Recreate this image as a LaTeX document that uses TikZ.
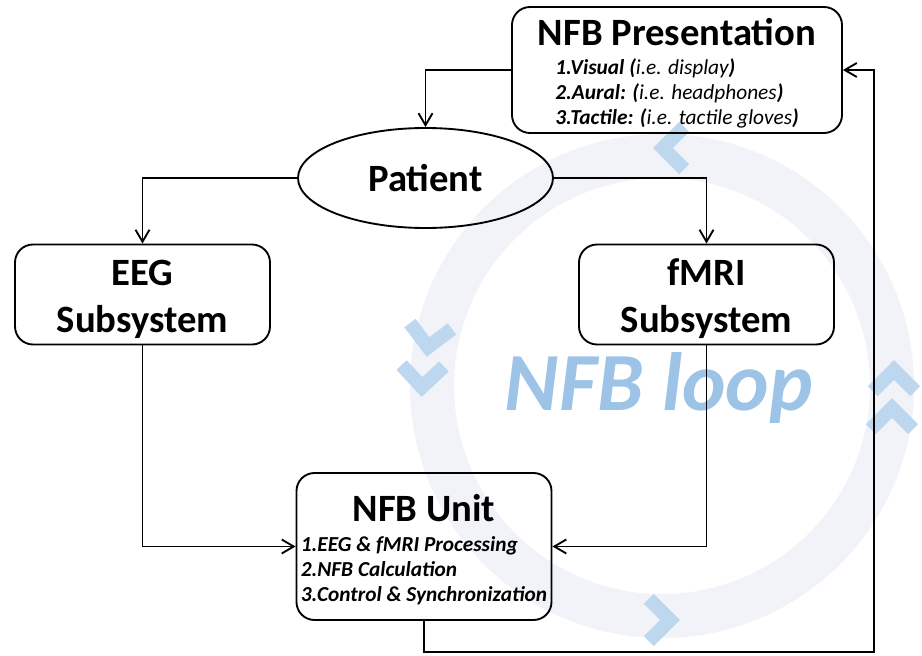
\documentclass[tikz,border=0pt]{standalone}
\usepackage{fontspec}
\setmainfont{Carlito}
\usetikzlibrary{arrows.meta, shapes.geometric}

\newcommand{\boxtitle}{\fontsize{29}{35}\selectfont\bfseries}
\newcommand{\boxitem}{\fontsize{16}{19}\selectfont\bfseries\itshape}
\definecolor{ringgray}{HTML}{F1F3F9}
\definecolor{chevblue}{HTML}{BDD7EE}
\definecolor{loopblue}{HTML}{9DC3E6}

\begin{document}
\begin{tikzpicture}[x=0.75pt, y=-0.75pt, line width=1.4pt,
	>={Straight Barb[length=9pt, width=10.5pt]},
	block/.style={draw, rounded corners=13.5pt, minimum width=191.25pt, minimum height=75pt,
		align=center, inner sep=0pt, font=\boxtitle},
	listblock/.style={block, minimum height=110.25pt},
	chev/.style={chevblue, line width=10.5pt},
	hvline/.style={->, to path={-| (\tikztotarget)}},
	vhline/.style={->, to path={|- (\tikztotarget)}}]
	\useasboundingbox (0,0) rectangle (922,656);
	% loop in the background
	\fill[ringgray, even odd rule] (662,386) circle[radius=252] circle[radius=208];
	\foreach \x/\y/\a in {663/148/180, 428/347/98, 422/387/92, 670/620/0, 894/370/270, 892/408/270}
		\draw[chev, shift={(\x,\y)}] ({\a+135}:30) -- (0,0) -- ({\a-135}:30);
	\node[text=loopblue, font=\fontsize{62}{62}\selectfont\bfseries\itshape, anchor=base] (loop) at (659,410) {NFB loop};

	\node[block, minimum width=247.5pt, minimum height=94.5pt] (pres) at (677,70)
		{\rule{0pt}{28pt}NFB Presentation\\[-13.25pt]
		\boxitem\begin{tabular}[t]{@{}l@{}}
			1.Visual (\textmd{i.e. display})\\
			2.Aural: (\textmd{i.e. headphones})\\
			3.Tactile: (\textmd{i.e. tactile gloves})
		\end{tabular}};
	\node[draw, ellipse, minimum width=191.25pt, minimum height=75pt, inner sep=0pt, font=\boxtitle] (patient) at (425.5,178) {Patient};
	\node[block] (eeg) at (142.5,294.5) {\rule{0pt}{26.5pt}EEG\\Subsystem};
	\node[block] (fmri) at (706.5,294.5) {\rule{0pt}{26.5pt}fMRI\\Subsystem};
	\node[listblock] (unit) at (424,546.5)
		{\rule{0pt}{28pt}NFB Unit\\[-12.5pt]
		\boxitem\begin{tabular}[t]{@{}l@{}}
			1.EEG \& fMRI Processing\\
			2.NFB Calculation\\
			3.Control \& Synchronization
		\end{tabular}};
	\coordinate (back) at (874,652);

	\draw
	(pres.west) edge[hvline] (patient.north)
	(patient.west) edge[hvline] (eeg.north)
	(patient.east) edge[hvline] (fmri.north)
	(eeg.south) edge[vhline] (unit.west)
	(fmri.south) edge[vhline] (unit.east)
	;
	\draw[->] (unit.south) |- (back) |- (pres.east);
\end{tikzpicture}
\end{document}
